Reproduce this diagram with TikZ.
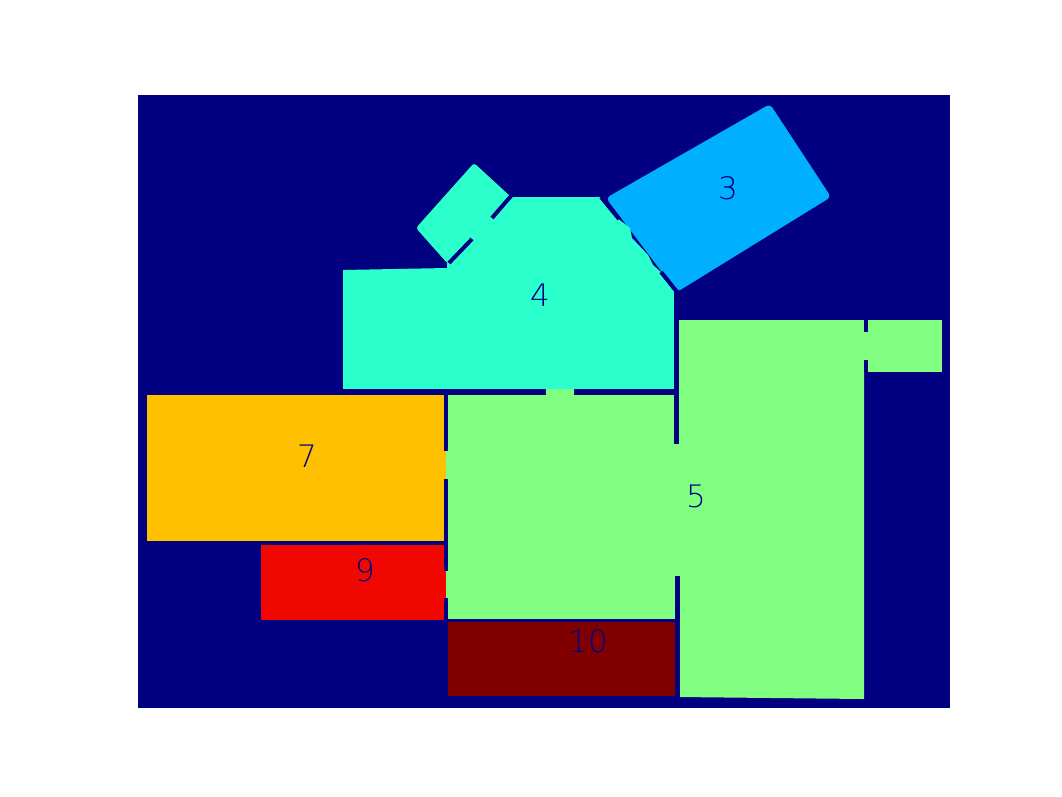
\documentclass[tikz,border=0pt]{standalone}
\usepackage{fontspec}
\setmainfont{Liberation Sans}
\newfontfamily\thinfont{DejaVu Sans ExtraLight}
\definecolor{bgnavy}{RGB}{0,0,128}
\definecolor{roomblue}{RGB}{0,176,255}
\definecolor{roomcyan}{RGB}{43,255,204}
\definecolor{roomgreen}{RGB}{128,255,128}
\definecolor{roomorange}{RGB}{255,192,0}
\definecolor{roomred}{RGB}{240,8,0}
\definecolor{roomdark}{RGB}{128,0,0}

\begin{document}
\begin{tikzpicture}[
	x=0.025cm, y=-0.025cm,
	wall/.style={fill=bgnavy, draw=none},
	cut/.style={draw=bgnavy, line width=0.1cm},
	num/.style={text=bgnavy, inner sep=0pt, font=\thinfont\fontsize{22}{26}\selectfont},
	]
	\useasboundingbox[fill=white] (0,0) rectangle (1062,796);
	\fill[bgnavy] (138,95) rectangle (950,708);
	
	% rooms
	\fill[roomgreen] (446,389) rectangle (678,619);
	\fill[roomgreen] (676,320) -- (864,320) -- (864,699) -- (679,697) -- cycle;
	\fill[roomgreen] (864,320) rectangle (942,372);
	\fill[roomorange] (147,395) rectangle (446,541);
	\fill[roomred] (261,545) rectangle (446,620);
	\fill[roomdark] (448,622) rectangle (675,696);
	\fill[roomblue, rounded corners=3pt] (606,198) -- (770,104) -- (831,197) -- (677,292) -- cycle;
	\fill[roomcyan, rounded corners=2pt] (474,163) -- (511,197) -- (448,264) -- (416,228) -- cycle;
	\fill[roomcyan] (343,270) -- (447,268) -- (447,263) -- (508,197) -- (600,197) -- (617,218)
		-- (630,228) -- (632,238) -- (648,255) -- (653,265) -- (662,273)
		-- (675,292) -- (674,389) -- (343,389) -- cycle;
	
	% walls
	\fill[wall] (343,389) rectangle (546,394.5);
	\fill[wall] (574,389) rectangle (679,394.5);
	\fill[wall] (674,292) rectangle (679,444);
	\fill[wall] (675,576) rectangle (680,698);
	\fill[wall] (444,394) rectangle (448,451);
	\fill[wall] (444,479) rectangle (448,571);
	\fill[wall] (444,598) rectangle (448,622);
	\fill[wall] (446,619) rectangle (675,622);
	\fill[wall] (864,320) rectangle (868,332);
	\fill[wall] (864,360) rectangle (868,372);
	\draw[cut] (511,196) -- (492,218);
	\draw[cut] (472,239) -- (449,263);
	\draw[cut] (601,197) -- (619,219);
	\draw[cut] (661,272) -- (677,292);
	
	% labels
	\node[num] (lblthree) at (728,188) {3};
	\node[num] (lblfour)  at (540,295) {4};
	\node[num] (lblfive)  at (696,496) {5};
	\node[num] (lblseven) at (307,456) {7};
	\node[num] (lblnine)  at (365,570) {9};
	\node[num] (lblten)   at (588,641) {10};
	
\end{tikzpicture}
\end{document}
